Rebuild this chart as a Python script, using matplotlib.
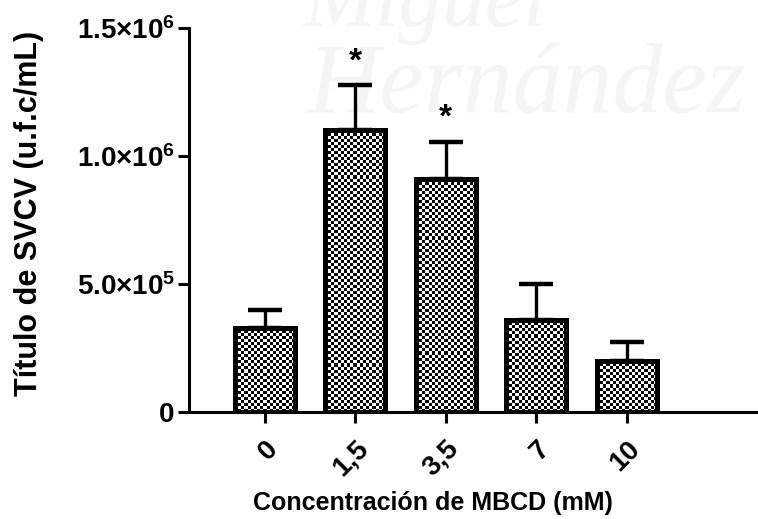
import numpy as np
import matplotlib
matplotlib.use("Agg")
import matplotlib.pyplot as plt

# values
concentrations = ["0", "1,5", "3,5", "7", "10"]
titers = [3.3e5, 1.10e6, 9.1e5, 3.6e5, 2.0e5]
errors = [0.68e5, 1.78e5, 1.46e5, 1.42e5, 0.72e5]
significant = [False, True, True, False, False]
yticks = [0, 5.0e5, 1.0e6, 1.5e6]
ytick_labels = ["0", "5.0×10$^{5}$", "1.0×10$^{6}$", "1.5×10$^{6}$"]

plt.rcParams["font.family"] = ["Liberation Sans", "DejaVu Sans"]
plt.rcParams["font.weight"] = "bold"
plt.rcParams["mathtext.default"] = "regular"

fig = plt.figure(figsize=(7.58, 5.19), dpi=100)

# faint watermark behind the plot
fig.text(0.40, 0.99, "Miguel", fontsize=62, family="Liberation Serif", style="italic",
         fontweight="normal", color="#f4f4f4", va="center", ha="left", zorder=-5)
fig.text(0.405, 0.83, "Hernández", fontsize=72, family="Liberation Serif", style="italic",
         fontweight="normal", color="#f4f4f4", va="center", ha="left", zorder=-5)

ax = fig.add_axes([0.249, 0.206, 0.751, 0.740])
ax.set_facecolor("none")

x = np.arange(len(concentrations))
bars = ax.bar(x, titers, width=0.66, facecolor="none", edgecolor="black", linewidth=3.6, zorder=3)
ax.errorbar(x, titers, yerr=[np.zeros(len(errors)), errors], fmt="none", ecolor="black",
            elinewidth=2.4, capsize=12, capthick=3.2, zorder=2)

for xi, t, e, s in zip(x, titers, errors, significant):
    if s:
        ax.text(xi, t + e + 0.3e5, "*", ha="center", va="bottom", fontsize=24)

ax.set_xlim(-0.84, 5.45)
ax.set_ylim(0, 1.5e6)

# checkerboard fill of each bar
fig.canvas.draw()
for b in bars:
    bb = b.get_window_extent()
    nx = max(int(bb.width / 3), 1)
    ny = max(int(bb.height / 3), 1)
    ii, jj = np.indices((ny, nx))
    checker = (ii + jj) % 2
    x0, y0 = b.get_x(), b.get_y()
    ax.imshow(checker, cmap="gray", extent=(x0, x0 + b.get_width(), y0, y0 + b.get_height()),
              aspect="auto", interpolation="nearest", zorder=2.5)
ax.set_xlim(-0.84, 5.45)
ax.set_ylim(0, 1.5e6)

ax.spines["top"].set_visible(False)
ax.spines["right"].set_visible(False)
ax.spines["left"].set_linewidth(2.2)
ax.spines["bottom"].set_linewidth(2.2)

ax.set_yticks(yticks)
ax.set_yticklabels(ytick_labels, fontsize=20, fontweight="bold")
ax.set_xticks(x)
ax.set_xticklabels(concentrations, fontsize=20, fontweight="bold", rotation=45,
                   ha="right", va="top", rotation_mode="anchor")
ax.tick_params(axis="both", direction="out", length=8, width=2.2, pad=2)
ax.tick_params(axis="x", pad=9)

ax.set_ylabel("Título de SVCV (u.f.c/mL)", fontsize=22, fontweight="bold")
ax.yaxis.set_label_coords(-0.255, 0.518)
ax.set_xlabel("Concentración de MBCD (mM)", fontsize=18, fontweight="bold")
ax.xaxis.set_label_coords(0.429, -0.205)

fig.savefig("out.png", dpi=100)
